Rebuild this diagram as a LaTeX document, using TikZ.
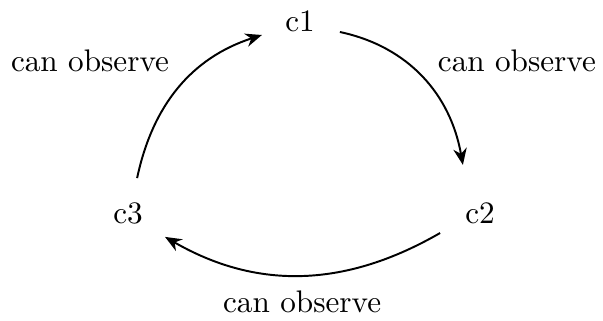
\documentclass[tikz,border=0pt]{standalone}
\usetikzlibrary{arrows.meta}
\begin{document}
\begin{tikzpicture}[x=1pt,y=1pt,
  st/.style={inner sep=2pt,font=\fontsize{10.4}{12}\selectfont},
  lbl/.style={inner sep=0pt,font=\fontsize{10.4}{12}\selectfont},
  edge/.style={-{Stealth[length=5.5pt,width=4.5pt]},line width=0.65pt}]
\useasboundingbox (0,0) rectangle (201,106.667);
\node[st] (c1) at (100,99.5) {c1};
\node[st] (c2) at (160,35.5) {c2};
\node[st] (c3) at (42.7,35.5) {c3};
\node[lbl] (l1) at (30,86.5) {can observe};
\node[lbl] (l2) at (172.3,86.5) {can observe};
\node[lbl] (l3) at (100.7,6) {can observe};
\coordinate (a1) at (113.3,96);
\coordinate (b1) at (154.3,51.7);
\coordinate (a2) at (146.7,29);
\coordinate (b2) at (55,27.7);
\coordinate (a3) at (45.7,47.3);
\coordinate (b3) at (87.3,95);
\draw[edge] (a1) to[out=-12,in=100] (b1);
\draw[edge] (a2) to[out=-150,in=-30] (b2);
\draw[edge] (a3) to[out=78,in=198] (b3);
\end{tikzpicture}
\end{document}
